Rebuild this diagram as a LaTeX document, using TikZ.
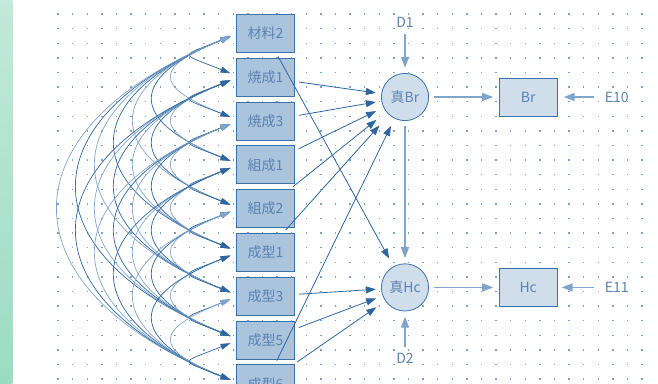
\documentclass[tikz,border=0pt]{standalone}
\usepackage{fontspec}
\newfontfamily\jpfont{Noto Sans CJK JP}
\usetikzlibrary{arrows.meta,positioning,calc}

\definecolor{boxfill}{RGB}{170,196,221}
\definecolor{boxline}{RGB}{60,112,168}
\definecolor{palefill}{RGB}{208,222,235}
\definecolor{pathdark}{RGB}{45,102,160}
\definecolor{pathlight}{RGB}{128,165,205}
\definecolor{labeltext}{RGB}{92,130,176}
\definecolor{griddot}{RGB}{125,160,200}
\definecolor{striptop}{RGB}{194,233,219}
\definecolor{stripbottom}{RGB}{156,219,195}

\newcommand{\labelfont}{\jpfont\fontsize{14}{16}\selectfont}

\begin{document}
\begin{tikzpicture}[
    x=1pt, y=1pt,
    node distance=4.8pt,
    box/.style={rectangle, draw=boxline, fill=boxfill, line width=1pt, minimum width=58pt, minimum height=38pt, inner sep=0pt, text=labeltext, font=\labelfont},
    outbox/.style={box, fill=palefill},
    latent/.style={rectangle, minimum size=52pt, inner sep=0pt, text=labeltext, font=\labelfont,
        path picture={\draw[boxline, fill=palefill, line width=0.8pt] (path picture bounding box.center) circle (23.6pt);}},
    errlabel/.style={inner sep=0pt, text=labeltext, font=\labelfont},
    effect/.style={->, >={Triangle[length=10pt,width=7pt]}, draw=pathdark, line width=0.8pt, shorten <=4pt, shorten >=3pt},
    feed/.style={->, >={Triangle[length=11pt,width=8pt]}, draw=pathlight, line width=1.5pt, shorten <=3pt, shorten >=3pt},
    cov/.style={<->, >={Triangle[length=10pt,width=6pt]}, line width=0.7pt}
]
    \useasboundingbox (0,0) rectangle (658,-383);

    % side strip and dotted grid
    \shade[top color=striptop, bottom color=stripbottom] (0,0) rectangle (12.3,-383);
    \foreach \i in {0,...,40}
        \foreach \j in {0,...,25}
            \fill[griddot] ({57.3+14.6*\i},{-13.3-14.6*\j}) rectangle +(1.4,-1.4);

    % observed variables
    \node[box] (mat2) at (265.5,-33.5) {材料2};
    \node[box, below=of mat2] (sin1) {焼成1};
    \node[box, below=of sin1] (sin3) {焼成3};
    \node[box, below=of sin3] (comp1) {組成1};
    \node[box, below=of comp1] (comp2) {組成2};
    \node[box, below=of comp2] (form1) {成型1};
    \node[box, below=of form1] (form3) {成型3};
    \node[box, below=of form3] (form5) {成型5};
    \node[box, below=of form5] (form6) {成型6};

    % latent variables and indicators
    \node[latent] (trueBr) at (405,-97) {真Br};
    \node[latent, below=138pt of trueBr] (trueHc) {真Hc};
    \node[outbox, right=67.5pt of trueBr] (Br) {Br};
    \node[outbox, right=67.5pt of trueHc] (Hc) {Hc};
    \node[errlabel, right=47pt of Br] (E10) {E10};
    \node[errlabel, right=47pt of Hc] (E11) {E11};
    \node[errlabel, above=43pt of trueBr] (D1) {D1};
    \node[errlabel, below=39pt of trueHc] (D2) {D2};

    % covariances between all observed variables
    \foreach \a [count=\i] in {mat2,sin1,sin3,comp1,comp2,form1,form3,form5,form6}
        \foreach \b [count=\j] in {mat2,sin1,sin3,comp1,comp2,form1,form3,form5,form6} {
            \ifnum\j>\i
                \pgfmathsetmacro\h{26.7+25.3*(\j-\i)}
                \pgfmathsetmacro\v{0.4*\h}
                \ifodd\numexpr\i+\j\relax \def\tone{pathdark}\else\def\tone{pathlight}\fi
                \draw[cov, draw=\tone] ($(\a.west)+(-5.5,-3)$) .. controls +(-\h,-\v) and +(-\h,\v) .. ($(\b.west)+(-5.5,4)$);
            \fi
        }

    % paths
    \foreach \src in {sin1,sin3,comp1,comp2,form1,form6}
        \draw[effect] (\src) -- (trueBr);
    \foreach \src in {mat2,form3,form5,form6}
        \draw[effect] (\src) -- (trueHc);

    \draw[feed] (trueBr) -- (trueHc);
    \draw[feed, shorten >=5.5pt] (trueBr) -- (Br);
    \draw[feed, shorten >=5.5pt] (trueHc) -- (Hc);
    \draw[feed, shorten <=11pt, shorten >=6pt] (E10) -- (Br);
    \draw[feed, shorten <=11pt, shorten >=4pt] (E11) -- (Hc);
    \draw[feed, shorten <=6pt] (D1) -- (trueBr);
    \draw[feed, shorten <=6pt] (D2) -- (trueHc);
\end{tikzpicture}
\end{document}
